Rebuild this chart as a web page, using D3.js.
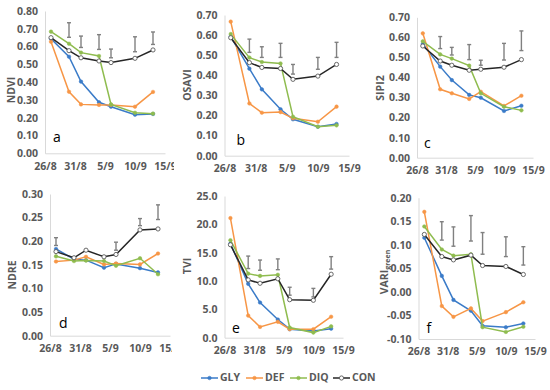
<!DOCTYPE html>
<html><head><meta charset="utf-8">
<script src="https://cdn.jsdelivr.net/npm/d3@7"></script>
<style>
body{margin:0;background:#fff;}
svg text{font-family:"Open Sans","Liberation Sans",Arial,sans-serif;}
</style></head>
<body><svg id="chart" width="550" height="390"></svg>
<script>
// ---------- DATA ----------
const sampleDates = ["2019-08-27","2019-08-30","2019-09-01","2019-09-04","2019-09-06","2019-09-10","2019-09-13"];
const xTickDates = ["2019-08-26","2019-08-31","2019-09-05","2019-09-10","2019-09-15"];
const xTickLabels = ["26/8","31/8","5/9","10/9","15/9"];
const seriesNames = ["GLY","DEF","DIQ","CON"];

const ndviGLY = [0.644,0.543,0.403,0.287,0.262,0.217,0.221];
const ndviDEF = [0.627,0.346,0.275,0.272,0.272,0.262,0.345];
const ndviDIQ = [0.684,0.616,0.566,0.547,0.275,0.228,0.223];
const ndviCON = [0.650,0.577,0.537,0.519,0.510,0.534,0.581];
const ndviErrLow  = [null,0.652,0.595,0.584,0.537,0.571,0.612];
const ndviErrHigh = [null,0.734,0.659,0.667,0.586,0.655,0.682];

const osaviGLY = [0.592,0.433,0.330,0.231,0.181,0.144,0.158];
const osaviDEF = [0.667,0.260,0.214,0.217,0.186,0.169,0.244];
const osaviDIQ = [0.605,0.488,0.466,0.459,0.194,0.144,0.151];
const osaviCON = [0.587,0.463,0.439,0.434,0.380,0.396,0.454];
const osaviErrLow  = [null,0.514,0.489,0.489,0.406,0.430,0.489];
const osaviErrHigh = [null,0.580,0.542,0.559,0.454,0.489,0.564];

const sipiGLY = [0.567,0.454,0.387,0.313,0.299,0.233,0.259];
const sipiDEF = [0.620,0.341,0.321,0.293,0.329,0.258,0.309];
const sipiDIQ = [0.580,0.515,0.494,0.459,0.321,0.254,0.236];
const sipiCON = [0.557,0.482,0.461,0.436,0.441,0.451,0.489];
const sipiErrLow  = [null,0.544,0.512,0.489,0.461,0.487,0.534];
const sipiErrHigh = [null,0.604,0.550,0.564,0.486,0.570,0.632];

const ndreGLY = [0.1835,0.162,0.160,0.144,0.152,0.143,0.134];
const ndreDEF = [0.157,0.160,0.167,0.151,0.153,0.151,0.174];
const ndreDIQ = [0.168,0.158,0.159,0.158,0.148,0.164,0.130];
const ndreCON = [0.178,0.165,0.181,0.167,0.172,0.224,0.226];
const ndreErrLow  = [0.191,null,null,null,0.181,0.233,0.246];
const ndreErrHigh = [0.2075,null,null,null,0.198,0.248,0.277];

const tviGLY = [16.6,9.5,6.2,3.2,1.5,1.2,1.6];
const tviDEF = [21.1,3.9,1.9,2.8,1.5,1.5,3.7];
const tviDIQ = [17.2,11.3,10.9,11.1,1.8,0.9,2.0];
const tviCON = [16.4,10.2,9.6,10.4,6.7,6.6,11.2];
const tviErrLow  = [null,12.2,11.9,12.0,7.5,7.2,12.1];
const tviErrHigh = [null,14.4,13.7,13.9,8.9,8.7,14.3];

const variGLY = [0.115,0.034,-0.017,-0.040,-0.072,-0.075,-0.067];
const variDEF = [0.170,-0.030,-0.053,-0.035,-0.062,-0.043,-0.022];
const variDIQ = [0.139,0.090,0.077,0.080,-0.075,-0.085,-0.074];
const variCON = [0.122,0.075,0.068,0.078,0.056,0.054,0.037];
const variErrLow  = [null,0.110,0.097,0.108,0.080,0.075,0.057];
const variErrHigh = [null,0.149,0.138,0.162,0.126,0.117,0.096];

// ---------- LAYOUT ----------
const colors = {GLY:"#3a7bc8", DEF:"#f79646", DIQ:"#8fbc4f", CON:"#262626"};
const parse = d3.timeParse("%Y-%m-%d");
const dates = sampleDates.map(parse);
const tickDates = xTickDates.map(parse);
const fmtMinus = f => v => f(v).replace("\u2212","-");

const panels = [
  {letter:"a", title:"NDVI", s:[ndviGLY,ndviDEF,ndviDIQ,ndviCON], lo:ndviErrLow, hi:ndviErrHigh,
   dom:[0,0.8], step:0.1, fmt:".2f", xL:45, xR:165, yT:11, yB:153.3, tx:12, ty:90, lx:53, ly:142, clip:174},
  {letter:"b", title:"OSAVI", s:[osaviGLY,osaviDEF,osaviDIQ,osaviCON], lo:osaviErrLow, hi:osaviErrHigh,
   dom:[0,0.7], step:0.1, fmt:".2f", xL:224.5, xR:349, yT:15, yB:155.7, tx:188, ty:85, lx:236.5, ly:145},
  {letter:"c", title:"SIPI2", s:[sipiGLY,sipiDEF,sipiDIQ,sipiCON], lo:sipiErrLow, hi:sipiErrHigh,
   dom:[0,0.7], step:0.1, fmt:".2f", xL:417, xR:533, yT:17.3, yB:157.7, tx:381, ty:88, lx:424, ly:148},
  {letter:"d", title:"NDRE", s:[ndreGLY,ndreDEF,ndreDIQ,ndreCON], lo:ndreErrLow, hi:ndreErrHigh,
   dom:[0,0.3], step:0.05, fmt:".2f", xL:50, xR:170, yT:194, yB:335.7, tx:13, ty:275, lx:59, ly:327.5, clip:172},
  {letter:"e", title:"TVI", s:[tviGLY,tviDEF,tviDIQ,tviCON], lo:tviErrLow, hi:tviErrHigh,
   dom:[0,25], step:5, fmt:".1f", xL:224.5, xR:343, yT:196, yB:337.7, tx:188, ty:266, lx:232, ly:333},
  {letter:"f", title:"VARI", sub:"green", s:[variGLY,variDEF,variDIQ,variCON], lo:variErrLow, hi:variErrHigh,
   dom:[-0.1,0.2], step:0.05, fmt:".2f", xL:418.5, xR:535, yT:197.7, yB:339, tx:385, ty:272, lx:426.5, ly:333}
];

const svg = d3.select("#chart");
const defs = svg.append("defs");
const txtCol = "#595959";

panels.forEach((p,pi) => {
  let g = svg.append("g");
  if (p.clip) {
    defs.append("clipPath").attr("id","clip"+pi).append("rect")
      .attr("x",0).attr("y",p.yT-20).attr("width",p.clip).attr("height",200);
    g.attr("clip-path","url(#clip"+pi+")");
  }
  const x = d3.scaleTime().domain([tickDates[0], tickDates[tickDates.length-1]]).range([p.xL,p.xR]);
  const y = d3.scaleLinear().domain(p.dom).range([p.yB,p.yT]);
  const yTicks = d3.range(p.dom[0], p.dom[1]+p.step/2, p.step).map(v=>+v.toFixed(4));
  const fmt = fmtMinus(d3.format(p.fmt));

  // y axis
  const yAx = g.append("g").attr("transform",`translate(${p.xL},0)`)
    .call(d3.axisLeft(y).tickValues(yTicks).tickFormat(fmt).tickSize(0).tickPadding(7));
  yAx.select(".domain").attr("stroke","#d9d9d9");
  yAx.selectAll("text").attr("fill",txtCol).style("font-size","10.5px").style("font-weight","bold");

  // x axis
  const xAx = g.append("g").attr("transform",`translate(0,${p.yB})`)
    .call(d3.axisBottom(x).tickValues(tickDates).tickFormat((d,i)=>xTickLabels[i]).tickSize(0).tickPadding(9));
  xAx.select(".domain").attr("stroke","#d9d9d9");
  xAx.selectAll("text").attr("fill",txtCol).style("font-size","10.5px").style("font-weight","bold");

  // axis title
  const t = g.append("text").attr("transform",`translate(${p.tx},${p.ty}) rotate(-90)`)
    .attr("text-anchor","middle").attr("dominant-baseline","middle")
    .attr("fill",txtCol).style("font-size","10.5px").style("font-weight","bold").text(p.title);
  if (p.sub) t.append("tspan").attr("dy",3).style("font-size","7px").text(p.sub);

  // panel letter
  g.append("text").attr("x",p.lx).attr("y",p.ly).attr("fill","#000")
    .style("font-size","14px").text(p.letter);

  // error bars
  const eb = dates.map((d,i)=>({d, lo:p.lo[i], hi:p.hi[i]})).filter(e=>e.lo!=null);
  const ebg = g.append("g").attr("stroke","#808080").attr("stroke-width",1.4);
  eb.forEach(e => {
    const cx = x(e.d), y1 = y(e.lo), y2 = y(e.hi);
    ebg.append("line").attr("x1",cx).attr("x2",cx).attr("y1",y1).attr("y2",y2);
    ebg.append("line").attr("x1",cx-2).attr("x2",cx+2).attr("y1",y1).attr("y2",y1);
    ebg.append("line").attr("x1",cx-2).attr("x2",cx+2).attr("y1",y2).attr("y2",y2);
  });

  // series
  const line = d3.line().x(d=>x(d.d)).y(d=>y(d.v));
  p.s.forEach((vals,si) => {
    const name = seriesNames[si];
    const pts = dates.map((d,i)=>({d, v:vals[i]}));
    g.append("path").datum(pts).attr("d",line).attr("fill","none")
      .attr("stroke",colors[name]).attr("stroke-width",1.5);
    g.selectAll(null).data(pts).enter().append("circle")
      .attr("cx",d=>x(d.d)).attr("cy",d=>y(d.v))
      .attr("r", name==="CON"?2.1:1.8)
      .attr("fill", name==="CON"?"#fff":colors[name])
      .attr("stroke", name==="CON"?"#595959":colors[name])
      .attr("stroke-width", name==="CON"?0.9:0.5);
  });
});

// legend
const legX = [201, 246, 290, 333];
const legY = 378;
const lg = svg.append("g");
seriesNames.forEach((n,i) => {
  const x0 = legX[i];
  lg.append("line").attr("x1",x0).attr("x2",x0+17).attr("y1",legY).attr("y2",legY)
    .attr("stroke",colors[n]).attr("stroke-width",1.5);
  lg.append("circle").attr("cx",x0+8.5).attr("cy",legY).attr("r",n==="CON"?2.1:1.8)
    .attr("fill",n==="CON"?"#fff":colors[n]).attr("stroke",n==="CON"?"#595959":colors[n])
    .attr("stroke-width",n==="CON"?0.9:0.5);
  lg.append("text").attr("x",x0+19).attr("y",legY).attr("dominant-baseline","middle")
    .attr("fill",txtCol).style("font-size","10.5px").style("font-weight","bold").text(n);
});
</script></body></html>
